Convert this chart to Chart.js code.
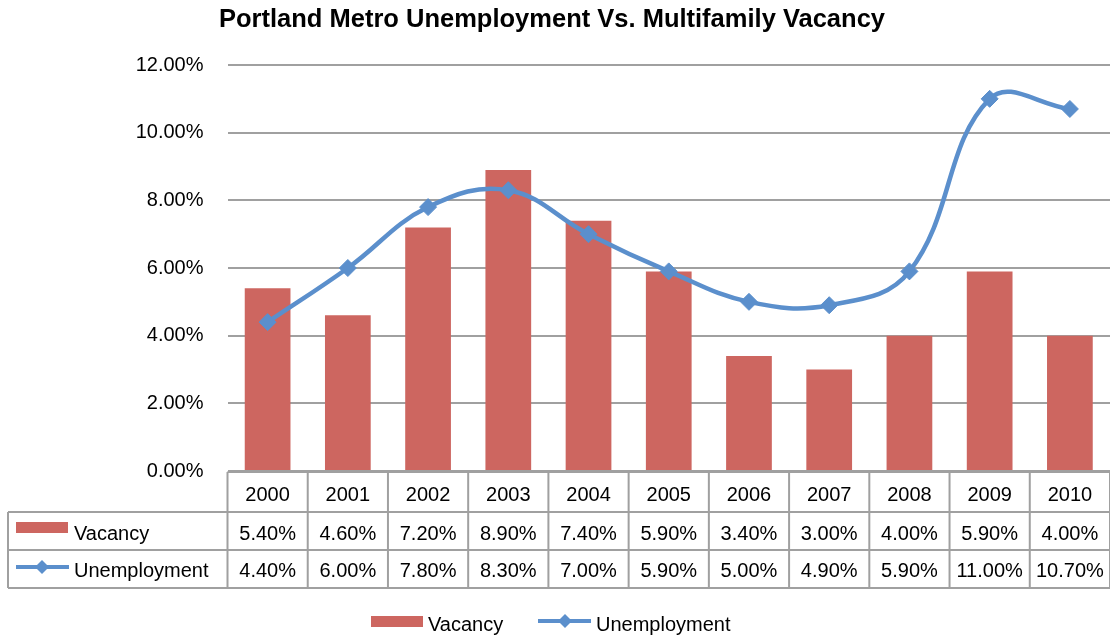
<!DOCTYPE html>
<html>
<head>
<meta charset="utf-8">
<script src="https://cdn.jsdelivr.net/npm/chart.js@4/dist/chart.umd.min.js"></script>
<style>
  html, body { margin: 0; padding: 0; background: #ffffff; }
  #wrap { width: 1110px; height: 639px; }
</style>
</head>
<body>
<div id="wrap"><canvas id="c" width="1110" height="639"></canvas></div>
<script>
// ---- data ----
const title = 'Portland Metro Unemployment Vs. Multifamily Vacancy';
const years = ['2000', '2001', '2002', '2003', '2004', '2005', '2006', '2007', '2008', '2009', '2010'];
const vacancy = [5.4, 4.6, 7.2, 8.9, 7.4, 5.9, 3.4, 3.0, 4.0, 5.9, 4.0];
const unemployment = [4.4, 6.0, 7.8, 8.3, 7.0, 5.9, 5.0, 4.9, 5.9, 11.0, 10.7];
const seriesNames = ['Vacancy', 'Unemployment'];
const yMin = 0, yMax = 12, yStep = 2;

// ---- styles ----
const barColor = '#CD6660';
const lineColor = '#5B8FCC';
const gridColor = '#A0A0A0';
const FONT = '"Liberation Sans", Arial, sans-serif';

function fmt(v) { return v.toFixed(2) + '%'; }

function drawDiamond(ctx, x, y, r) {
  ctx.beginPath();
  ctx.moveTo(x, y - r);
  ctx.lineTo(x + r, y);
  ctx.lineTo(x, y + r);
  ctx.lineTo(x - r, y);
  ctx.closePath();
  ctx.fill();
}

const tablePlugin = {
  id: 'tablePlugin',
  afterDraw(chart) {
    const ctx = chart.ctx;
    const area = chart.chartArea;
    const xs = chart.scales.x;
    const n = years.length;
    const colW = (area.right - area.left) / n;
    const tTop = area.bottom + 1;
    const r1 = tTop + 40, r2 = r1 + 38, r3 = r2 + 38;
    const tLeft = 8;
    ctx.save();

    // title
    ctx.fillStyle = '#000';
    ctx.font = 'bold 25.5px ' + FONT;
    ctx.textAlign = 'center';
    ctx.textBaseline = 'alphabetic';
    ctx.fillText(title, 552, 27);

    // table grid
    ctx.strokeStyle = gridColor;
    ctx.lineWidth = 2;
    ctx.beginPath();
    ctx.moveTo(area.left, tTop); ctx.lineTo(area.right, tTop);
    [r1, r2, r3].forEach(y => { ctx.moveTo(tLeft, y); ctx.lineTo(area.right, y); });
    ctx.moveTo(tLeft, r1); ctx.lineTo(tLeft, r3);
    for (let i = 0; i <= n; i++) {
      const x = area.left + i * colW;
      ctx.moveTo(x, tTop); ctx.lineTo(x, r3);
    }
    ctx.stroke();

    // texts
    ctx.fillStyle = '#000';
    ctx.font = '20px ' + FONT;
    ctx.textAlign = 'center';
    for (let i = 0; i < n; i++) {
      const cx = xs.getPixelForValue(i);
      ctx.fillText(years[i], cx, tTop + 29);
      ctx.fillText(fmt(vacancy[i]), cx, r1 + 28);
      ctx.fillText(fmt(unemployment[i]), cx, r2 + 27);
    }

    // row legend keys
    ctx.textAlign = 'left';
    ctx.fillStyle = barColor;
    ctx.fillRect(16, r1 + 10, 52, 11);
    ctx.fillStyle = '#000';
    ctx.fillText(seriesNames[0], 74, r1 + 28);
    ctx.strokeStyle = lineColor;
    ctx.lineWidth = 4;
    ctx.beginPath(); ctx.moveTo(16, r2 + 17); ctx.lineTo(69, r2 + 17); ctx.stroke();
    ctx.fillStyle = lineColor;
    drawDiamond(ctx, 42, r2 + 17, 7);
    ctx.fillStyle = '#000';
    ctx.fillText(seriesNames[1], 74, r2 + 27);

    // bottom legend
    ctx.fillStyle = barColor;
    ctx.fillRect(371, 616, 52, 11);
    ctx.fillStyle = '#000';
    ctx.fillText(seriesNames[0], 428, 631);
    ctx.strokeStyle = lineColor;
    ctx.lineWidth = 4;
    ctx.beginPath(); ctx.moveTo(538, 621); ctx.lineTo(591, 621); ctx.stroke();
    ctx.fillStyle = lineColor;
    drawDiamond(ctx, 565, 621, 7);
    ctx.fillStyle = '#000';
    ctx.fillText(seriesNames[1], 596, 631);

    ctx.restore();
  }
};

new Chart(document.getElementById('c'), {
  data: {
    labels: years,
    datasets: [
      {
        type: 'line',
        label: seriesNames[1],
        data: unemployment,
        borderColor: lineColor,
        backgroundColor: lineColor,
        borderWidth: 4.5,
        tension: 0.4,
        pointStyle: 'rectRot',
        pointRadius: 8.5,
        pointHoverRadius: 8.5,
        pointBackgroundColor: lineColor,
        pointBorderColor: lineColor,
        pointBorderWidth: 1,
        order: 0,
        clip: false
      },
      {
        type: 'bar',
        label: seriesNames[0],
        data: vacancy,
        backgroundColor: barColor,
        borderWidth: 0,
        categoryPercentage: 1.0,
        barPercentage: 0.57,
        order: 1
      }
    ]
  },
  options: {
    responsive: false,
    animation: false,
    layout: { autoPadding: false, padding: { top: 65, bottom: 168, left: 0, right: 0 } },
    plugins: {
      legend: { display: false },
      title: { display: false },
      tooltip: { enabled: false }
    },
    scales: {
      x: { display: false, offset: true },
      y: {
        min: yMin, max: yMax,
        afterFit(scale) { scale.width = 227.5; },
        border: { display: false },
        grid: { color: gridColor, lineWidth: 2, drawTicks: false },
        ticks: {
          stepSize: yStep,
          padding: 24,
          color: '#000',
          font: { family: FONT, size: 20 },
          callback: v => fmt(v)
        }
      }
    }
  },
  plugins: [tablePlugin]
});
</script>
</body>
</html>
